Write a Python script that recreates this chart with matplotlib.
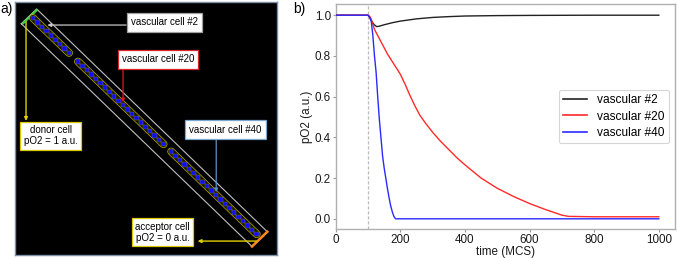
import matplotlib
matplotlib.use("Agg")
import matplotlib.pyplot as plt
from matplotlib.patches import Rectangle
from matplotlib.collections import PatchCollection
import numpy as np

plt.rcParams['font.family'] = ['Liberation Sans', 'DejaVu Sans']

# ---------------- data: panel b ----------------
t_v2 = [0, 100, 105, 110, 115, 120, 127, 135, 150, 175, 200, 250, 300, 350, 400, 500, 600, 800, 1000]
p_v2 = [1.0, 1.0, 0.99, 0.975, 0.962, 0.952, 0.944, 0.946, 0.953, 0.963, 0.971, 0.982, 0.989, 0.993,
        0.996, 0.998, 0.999, 1.0, 1.0]

t_v20 = [0, 100, 105, 110, 115, 120, 130, 140, 150, 160, 170, 180, 190, 200, 215, 230, 245, 260, 280,
         300, 325, 350, 375, 400, 450, 500, 550, 600, 650, 700, 720, 800, 1000]
p_v20 = [1.0, 1.0, 0.995, 0.98, 0.955, 0.93, 0.90, 0.87, 0.84, 0.81, 0.785, 0.76, 0.735, 0.71, 0.66,
         0.605, 0.555, 0.51, 0.465, 0.425, 0.38, 0.34, 0.30, 0.265, 0.20, 0.15, 0.11, 0.075, 0.045,
         0.018, 0.012, 0.01, 0.01]

t_v40 = [0, 100, 105, 110, 115, 120, 125, 130, 135, 140, 145, 150, 155, 160, 165, 170, 175, 180, 185, 1000]
p_v40 = [1.0, 1.0, 0.99, 0.97, 0.90, 0.80, 0.72, 0.60, 0.49, 0.40, 0.31, 0.25, 0.20, 0.15, 0.105,
         0.065, 0.035, 0.012, 0.0, 0.0]

series_labels = ['vascular #2', 'vascular #20', 'vascular #40']
series_colors = ['#222222', '#ff2a2a', '#2a2aff']
x_ticks = [0, 200, 400, 600, 800, 1000]
y_ticks = [0.0, 0.2, 0.4, 0.6, 0.8, 1.0]
inflow_start = 100

# ---------------- data: panel a ----------------
segments = [list(range(1, 10)), list(range(10, 30)), list(range(30, 50))]
gap_sizes = [1.0, 0.7]
labelled_cells = [2, 20, 40]

# ---------------- figure ----------------
W, H = 677, 258
fig = plt.figure(figsize=(W / 100, H / 100), dpi=100)

# ----- panel a: schematic of the vessel -----
axa = fig.add_axes([15 / W, 3 / H, 262 / W, 253 / H])
axa.set_facecolor('black')
L = 58.2
axa.set_xlim(0, L)
axa.set_ylim(0, L)
axa.set_xticks([])
axa.set_yticks([])
for s in axa.spines.values():
    s.set_color('#7f8fa5')
    s.set_linewidth(1.0)

# diagonal geometry (layout): x = x0 + p, y = y0 - p
x0, y0 = 4.0, 54.5
s_up, s_lo = 61.4, 54.6
d_start, d_end = -51.8, 50.7
side = 1.0


def sd(s, d):
    return (s + d) / 2.0, (s - d) / 2.0


def cell_pos(k):
    p = k - 1
    for gi, seg in enumerate(segments[1:]):
        if k >= seg[0]:
            p += gap_sizes[gi]
    return x0 + p, y0 - p


# tube outline
c1 = sd(s_lo, d_start); c2 = sd(s_up, d_start); c3 = sd(s_up, d_end); c4 = sd(s_lo, d_end)
xs = [c1[0], c2[0], c3[0], c4[0], c1[0]]
ys = [c1[1], c2[1], c3[1], c4[1], c1[1]]
axa.plot(xs, ys, color='#c0c0c0', lw=0.8, zorder=2)
# donor / acceptor caps
g1 = sd(s_lo + 0.6, d_start + 0.3); g2 = sd(s_up - 0.3, d_start + 0.3)
axa.plot([g1[0], g2[0]], [g1[1], g2[1]], color='#3fcf3f', lw=1.6, zorder=3)
axa.plot([c4[0], c3[0]], [c4[1], c3[1]], color='#ff8a1a', lw=1.8, zorder=3)

# vascular cells
rects = []
for seg in segments:
    px = [cell_pos(k)[0] for k in seg]
    py = [cell_pos(k)[1] for k in seg]
    axa.plot(px, py, color='#c9b800', lw=5.6, solid_capstyle='round', zorder=3)
    axa.plot(px, py, color='#141400', lw=4.7, solid_capstyle='round', zorder=4)
    for x, y in zip(px, py):
        rects.append(Rectangle((x - side / 2, y - side / 2), side, side))
axa.add_collection(PatchCollection(rects, facecolor='#0c0cff', edgecolor='#8a7e10',
                                   linewidth=0.3, zorder=5))

box_kw = dict(boxstyle='square,pad=0.42', facecolor='white', linewidth=0.9)
fs_box = 7

# vascular cell #2
cx, cy = cell_pos(labelled_cells[0])
tip2 = (cx + 2.2, cy - 0.6)
axa.annotate('', xy=tip2, xytext=(0.424 * L, tip2[1]),
             arrowprops=dict(arrowstyle='-|>', color='#c8c8c8', lw=0.9, mutation_scale=5,
                             shrinkA=0, shrinkB=0), zorder=6)
axa.text(0.571, 0.919, 'vascular cell #2', transform=axa.transAxes, ha='center', va='center',
         fontsize=fs_box, bbox=dict(edgecolor='#a0a0a0', **box_kw), zorder=7)

# vascular cell #20
cx, cy = cell_pos(labelled_cells[1])
axa.annotate('', xy=(cx, cy), xytext=(cx, 0.742 * L),
             arrowprops=dict(arrowstyle='-|>', color='#e8141c', lw=0.9, mutation_scale=5,
                             shrinkA=0, shrinkB=2), zorder=6)
axa.text(0.546, 0.773, 'vascular cell #20', transform=axa.transAxes, ha='center', va='center',
         fontsize=fs_box, bbox=dict(edgecolor='#d9262b', **box_kw), zorder=7)

# vascular cell #40
cx, cy = cell_pos(labelled_cells[2])
axa.annotate('', xy=(cx, cy), xytext=(cx, 0.465 * L),
             arrowprops=dict(arrowstyle='-|>', color='#5b8fbf', lw=0.9, mutation_scale=5,
                             shrinkA=0, shrinkB=2), zorder=6)
axa.text(0.803, 0.496, 'vascular cell #40', transform=axa.transAxes, ha='center', va='center',
         fontsize=fs_box, bbox=dict(edgecolor='#7aa7d0', **box_kw), zorder=7)

# donor cell
axa.annotate('', xy=(g1[0] + 0.6, 0.53 * L), xytext=(g1[0] + 0.6, g1[1] + 0.3),
             arrowprops=dict(arrowstyle='-|>', color='#e0d000', lw=1.0, mutation_scale=5,
                             shrinkA=0, shrinkB=0), zorder=6)
box_kw2 = dict(boxstyle='square,pad=0.35', facecolor='white', linewidth=0.9)
axa.text(0.1355, 0.472, 'donor cell\npO2 = 1 a.u.', transform=axa.transAxes, ha='center',
         va='center', fontsize=fs_box, linespacing=1.15,
         bbox=dict(edgecolor='#d8c800', **box_kw2), zorder=7)

# acceptor cell
ya = 0.055 * L
axa.annotate('', xy=(0.697 * L, ya), xytext=(c4[0] + 1.0, ya),
             arrowprops=dict(arrowstyle='-|>', color='#e0d000', lw=1.0, mutation_scale=5,
                             shrinkA=0, shrinkB=0), zorder=6)
axa.text(0.563, 0.089, 'acceptor cell\npO2 = 0 a.u.', transform=axa.transAxes, ha='center',
         va='center', fontsize=fs_box, linespacing=1.15,
         bbox=dict(edgecolor='#d8c800', **box_kw2), zorder=7)

# ----- panel b: pO2 time courses -----
axb = fig.add_axes([335.7 / W, 29 / H, 339.3 / W, 225 / H])
axb.axvline(inflow_start, color='#bdbdbd', lw=0.9, ls=(0, (2.5, 1.5)), zorder=1)
for t, v, lab, col in zip([t_v2, t_v20, t_v40], [p_v2, p_v20, p_v40], series_labels, series_colors):
    axb.plot(t, v, color=col, lw=1.0, label=lab, zorder=3)

axb.set_xlim(0, 1050)
axb.set_ylim(-0.05, 1.055)
axb.set_xticks(x_ticks)
axb.set_yticks(y_ticks)
axb.set_yticklabels([f'{v:.1f}' for v in y_ticks])
axb.tick_params(axis='both', labelsize=8.4, length=2.5, width=0.8, color='#9a9a9a', pad=1.0,
                labelcolor='#1a1a1a')
for s in axb.spines.values():
    s.set_color('#b0b0b0')
    s.set_linewidth(1.0)
axb.set_xlabel('time (MCS)', fontsize=8.4, labelpad=0.0, color='#1a1a1a')
axb.set_ylabel('pO2 (a.u.)', fontsize=8.4, color='#1a1a1a')
axb.yaxis.set_label_coords(-0.066, 0.5)
leg = axb.legend(loc='center right', fontsize=8.6, labelspacing=0.35, frameon=True,
                 edgecolor='#cccccc', handlelength=2.0, borderaxespad=0.5)
leg.get_frame().set_linewidth(0.8)
for line in leg.get_lines():
    line.set_linewidth(1.2)

fig.text(0 / W, 1 - 9 / H, 'a)', fontsize=10, ha='left', va='center')
fig.text(293 / W, 1 - 9 / H, 'b)', fontsize=10, ha='left', va='center')

fig.savefig('out.png', dpi=100)
